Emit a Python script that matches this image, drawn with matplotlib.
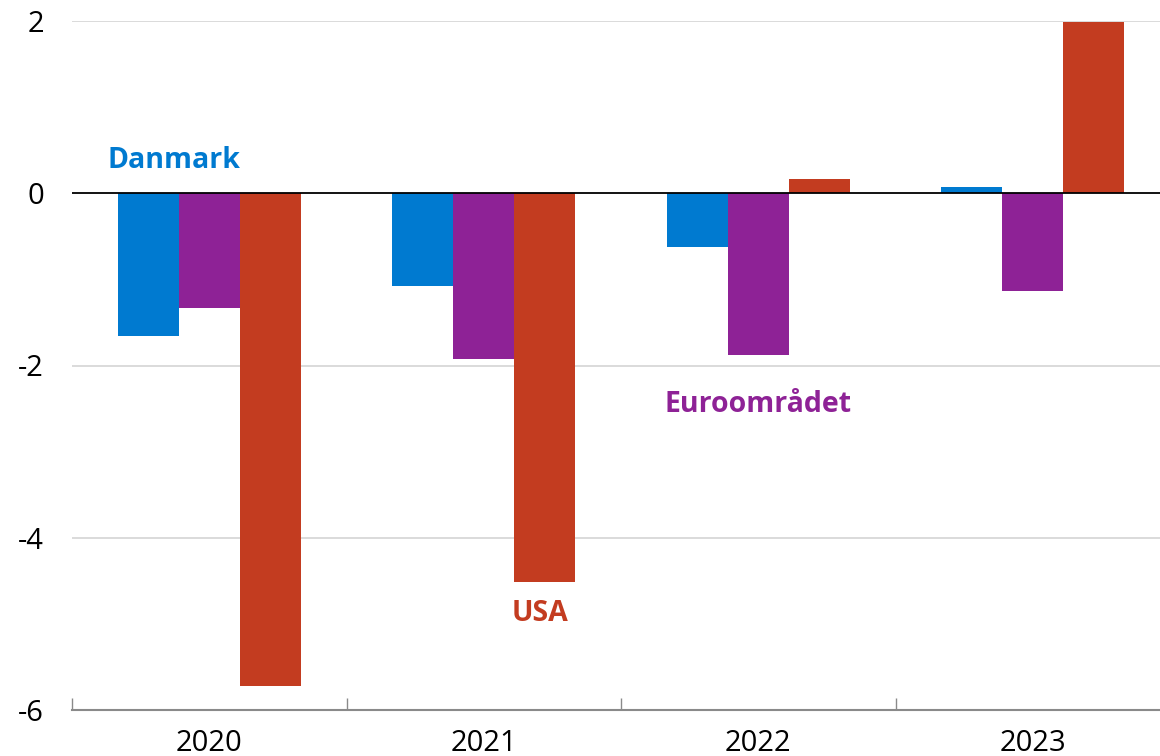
import matplotlib
matplotlib.use("Agg")
import matplotlib.pyplot as plt
import numpy as np

years = ["2020", "2021", "2022", "2023"]
danmark = [-1.66, -1.08, -0.62, 0.07]
euro = [-1.33, -1.93, -1.88, -1.13]
usa = [-5.72, -4.51, 0.16, 1.99]
series_names = ["Danmark", "Euroområdet", "USA"]
colors = ["#007AD0", "#8E2296", "#C33C20"]
yticks = [-6, -4, -2, 0, 2]

plt.rcParams['font.family'] = ['Open Sans', 'DejaVu Sans']

fig = plt.figure(figsize=(11.6, 7.56), dpi=100)
ax = fig.add_axes([72/1160, 46/756, 1 - 72/1160, (710-21)/756])

x = np.arange(len(years))
w = 0.222
for i, (vals, c) in enumerate(zip([danmark, euro, usa], colors)):
    ax.bar(x + (i - 1) * w, vals, width=w, color=c, zorder=3, linewidth=0)

ax.set_ylim(-6, 2)
ax.set_xlim(-0.5, 3.5 - 10/274.5)
ax.set_yticks(yticks)
ax.set_yticklabels([str(t) for t in yticks])
for t in [-4, -2, 2]:
    ax.axhline(t, color="#d4d4d4", lw=1.2, zorder=1)
ax.axhline(0, color="black", lw=1.3, zorder=4)

for s in ["top", "right", "left"]:
    ax.spines[s].set_visible(False)
ax.spines["bottom"].set_color("#8a8a8a")
ax.spines["bottom"].set_linewidth(1.5)

ax.set_xticks(x)
ax.set_xticklabels(years)
ax.set_xticks(np.arange(-0.5, 3.5, 1.0), minor=True)
ax.tick_params(axis="x", which="major", length=0, labelsize=21, pad=14)
ax.tick_params(axis="x", which="minor", length=9, direction="in", color="#8a8a8a", width=1)
ax.tick_params(axis="y", length=0, labelsize=21, pad=20)

ax.text(-0.369, 0.38, series_names[0], color=colors[0], fontsize=20.5, fontweight="bold", va="center", ha="left")
ax.text(1.66, -2.45, series_names[1], color=colors[1], fontsize=20.5, fontweight="bold", va="center", ha="left")
ax.text(1.103, -4.88, series_names[2], color=colors[2], fontsize=20.5, fontweight="bold", va="center", ha="left")

fig.savefig("out.png", dpi=100)
